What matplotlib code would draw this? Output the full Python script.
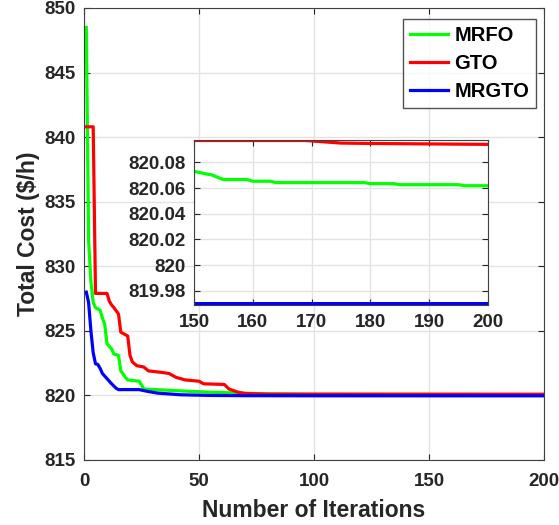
import numpy as np
import matplotlib.pyplot as plt

plt.rcParams['font.family'] = ['Liberation Sans', 'DejaVu Sans']
plt.rcParams['font.weight'] = 'bold'

# convergence curves, (iteration, best cost)
mrfo_it = [1, 2, 3, 4, 5, 7, 8, 9, 10, 12, 13, 15, 16, 18, 19, 24, 26, 42, 55, 68, 80, 100,
           150, 151, 152, 153, 154, 155, 159, 160, 163, 164, 179, 180, 184, 185, 195, 196, 200]
mrfo_val = [848.5, 832.0, 828.8, 827.2, 826.8, 826.6, 826.0, 825.5, 824.0, 823.6, 823.2, 823.1,
            821.9, 821.4, 821.2, 821.1, 820.5, 820.35, 820.25, 820.18, 820.12, 820.09,
            820.073, 820.072, 820.071, 820.0703, 820.0684, 820.0666, 820.0666, 820.0653,
            820.0653, 820.0642, 820.0642, 820.0634, 820.0634, 820.0626, 820.0626, 820.0618, 820.0618]

gto_it = [1, 4, 5, 10, 11, 12, 13, 15, 16, 19, 20, 21, 23, 26, 28, 33, 37, 40, 44, 50, 52, 61,
          63, 67, 70, 80, 100, 150, 169, 175, 180, 200]
gto_val = [840.8, 840.8, 827.9, 827.9, 827.3, 827.0, 826.8, 826.3, 824.9, 824.6, 823.1, 822.6,
           822.3, 822.2, 821.9, 821.8, 821.7, 821.4, 821.2, 821.1, 820.9, 820.85, 820.5, 820.25,
           820.15, 820.1, 820.098, 820.097, 820.097, 820.095, 820.0947, 820.094]

mrgto_it = [1, 2, 3, 4, 5, 6, 7, 8, 10, 12, 14, 15, 24, 28, 32, 42, 55, 70, 100, 150, 200]
mrgto_val = [828.0, 827.2, 825.0, 823.3, 822.45, 822.4, 822.1, 821.7, 821.3, 820.9, 820.55,
             820.45, 820.45, 820.3, 820.18, 820.05, 820.0, 819.98, 819.972, 819.970, 819.970]

labels = ["MRFO", "GTO", "MRGTO"]
colors = ["#00ff00", "#ff0000", "#0000ff"]
txt = "#262626"

fig = plt.figure(figsize=(5.59, 5.25), dpi=100)
ax = fig.add_axes([84/559, 1-460/525, 460/559, 452/525])

series = [(mrfo_it, mrfo_val), (gto_it, gto_val), (mrgto_it, mrgto_val)]
for (it, val), lab, c in zip(series, labels, colors):
    ax.plot(it, val, color=c, lw=2.3, label=lab)

ax.set_xlim(0, 200)
ax.set_ylim(815, 850)
ax.set_xticks([0, 50, 100, 150, 200])
ax.set_yticks(np.arange(815, 851, 5))
ax.grid(True, color="#e3e3e3", lw=1)
ax.set_axisbelow(True)
ax.tick_params(direction="in", top=True, right=True, labelsize=13.5, colors=txt, length=4)
ax.tick_params(axis="x", pad=9)
ax.tick_params(axis="y", pad=6)
for s in ax.spines.values():
    s.set_color("#404040")
ax.set_xlabel("Number of Iterations", fontsize=16.5, fontweight="bold", color=txt, labelpad=7)
ax.set_ylabel("Total Cost ($/h)", fontsize=16.5, fontweight="bold", color=txt, labelpad=3)

leg = ax.legend(loc="upper right", fontsize=14.5, frameon=True, fancybox=False,
                borderpad=0.35, handlelength=1.9, labelspacing=0.45, handletextpad=0.3,
                bbox_to_anchor=(0.983, 0.976), borderaxespad=0)
leg.get_frame().set_edgecolor("#262626")
leg.get_frame().set_linewidth(1)
for t in leg.get_texts():
    t.set_color("black")

# zoomed view of the tail
ins = fig.add_axes([194/559, 1-304.5/525, 294/559, 164.5/525])
for (it, val), c in zip(series, colors):
    ins.plot(it, val, color=c, lw=2.3)
ins.set_xlim(150, 200)
ins.set_ylim(819.9693, 820.0974)
ins.set_xticks([150, 160, 170, 180, 190, 200])
ins.set_yticks([819.98, 820, 820.02, 820.04, 820.06, 820.08])
ins.set_yticklabels(["819.98", "820", "820.02", "820.04", "820.06", "820.08"])
ins.grid(True, color="#e3e3e3", lw=1)
ins.set_axisbelow(True)
ins.tick_params(direction="in", top=True, right=True, labelsize=13.5, colors=txt, length=4)
ins.tick_params(axis="x", pad=7)
ins.tick_params(axis="y", pad=6)
for s in ins.spines.values():
    s.set_color("#404040")

fig.savefig("out.png", dpi=100)
